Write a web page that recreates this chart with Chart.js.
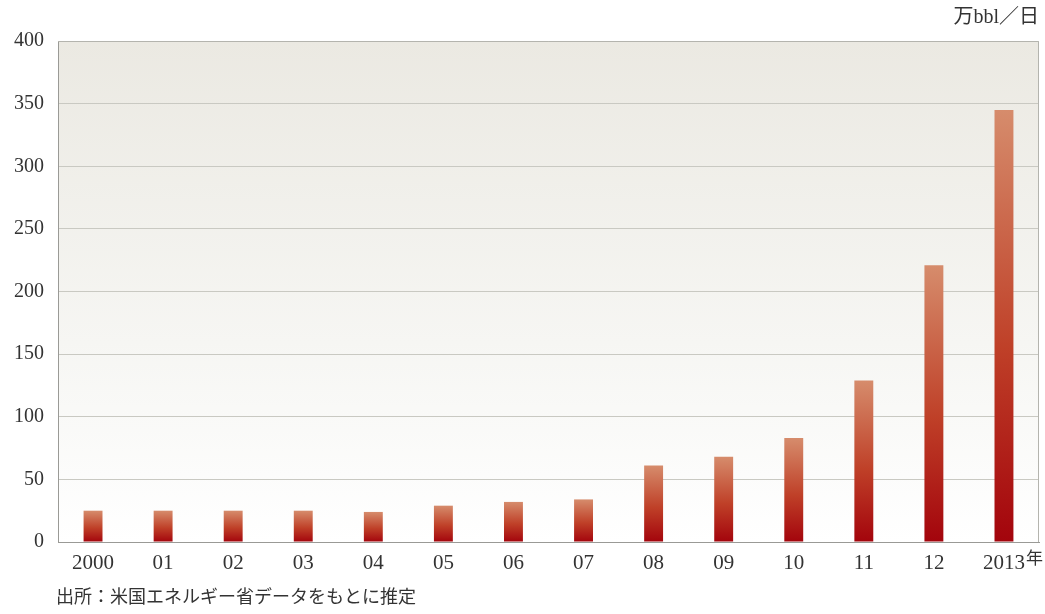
<!DOCTYPE html>
<html lang="ja">
<head>
<meta charset="utf-8">
<script src="https://cdn.jsdelivr.net/npm/chart.js@4/dist/chart.umd.min.js"></script>
<style>
  html, body {margin: 0; padding: 0; background: #fff;}
  #wrap {width: 1045px; height: 614px; position: relative;}
</style>
</head>
<body>
<div id="wrap"><canvas id="c"></canvas></div>
<script>
// Production, 万bbl/日, 2000-2013.
const years = ['2000', '01', '02', '03', '04', '05', '06', '07', '08', '09',
               '10', '11', '12', '2013'];
const output = [25, 25, 25, 25, 24, 29, 32, 34, 61, 68, 83, 129, 221, 345];
const yTicks = [0, 50, 100, 150, 200, 250, 300, 350, 400];
const unitLabel = '万bbl／日';
const yearSuffix = '年';
const sourceNote = '出所：米国エネルギー省データをもとに推定';

const serif = '"Liberation Serif", "DejaVu Serif", "Noto Sans CJK JP", serif';
const ink = '#333';

// Panel background, frame, and the extra texts around the plot.
const decor = {
    id: 'decor',
    beforeDraw(chart) {
        const {ctx, chartArea: a} = chart;
        const g = ctx.createLinearGradient(0, a.top, 0, a.bottom);
        g.addColorStop(0, '#ebe9e2');
        g.addColorStop(0.6, '#f6f6f3');
        g.addColorStop(1, '#ffffff');
        ctx.save();
        ctx.fillStyle = g;
        ctx.fillRect(a.left, a.top, a.right - a.left, a.bottom - a.top);
        ctx.restore();
    },
    afterDraw(chart) {
        const {ctx, chartArea: a} = chart;
        ctx.save();
        ctx.strokeStyle = '#b4b4ae';
        ctx.lineWidth = 1;
        ctx.beginPath();
        ctx.moveTo(a.left, a.top + 0.5);
        ctx.lineTo(a.right - 0.5, a.top + 0.5);
        ctx.lineTo(a.right - 0.5, a.bottom);
        ctx.stroke();

        ctx.fillStyle = ink;
        ctx.font = `20px ${serif}`;
        ctx.textBaseline = 'middle';
        ctx.textAlign = 'right';
        ctx.fillText(unitLabel, 1039, 18);

        // Year suffix after the last tick label.
        const x = chart.scales.x;
        const last = x.getPixelForTick(years.length - 1);
        ctx.font = `21px ${serif}`;
        const w = ctx.measureText(years[years.length - 1]).width;
        ctx.font = `17px ${serif}`;
        ctx.textAlign = 'left';
        ctx.fillText(yearSuffix, last + w / 2 + 1, 560);

        ctx.font = `18px ${serif}`;
        ctx.fillText(sourceNote, 56, 598);
        ctx.restore();
    },
};

// Each bar shades from light at its top to dark red at its base.
function barFill(c) {
    const chart = c.chart;
    if (!chart.chartArea || !c.parsed) return '#b52a1c';
    const y = chart.scales.y;
    const top = y.getPixelForValue(c.parsed.y), base = y.getPixelForValue(0);
    const g = chart.ctx.createLinearGradient(0, top, 0, base);
    g.addColorStop(0, '#d68c6c');
    g.addColorStop(0.55, '#bf4028');
    g.addColorStop(1, '#a3040c');
    return g;
}

new Chart(document.getElementById('c'), {
    type: 'bar',
    data: {
        labels: years,
        datasets: [{
            data: output,
            backgroundColor: barFill,
            borderWidth: 0,
            categoryPercentage: 1,
            barPercentage: 0.27,
        }],
    },
    plugins: [decor],
    options: {
        responsive: true,
        maintainAspectRatio: false,
        animation: false,
        layout: {padding: {left: 0, top: 41, right: 6, bottom: 40}},
        plugins: {legend: {display: false}, tooltip: {enabled: false}},
        scales: {
            x: {
                grid: {display: false},
                border: {display: true, color: '#9a9a96', width: 1},
                ticks: {
                    color: ink, font: {family: serif, size: 21},
                    padding: 1, maxRotation: 0, autoSkip: false,
                },
                afterFit: s => { s.height = 32; },
            },
            y: {
                min: 0, max: 400,
                afterBuildTicks: s => { s.ticks = yTicks.map(v => ({value: v})); },
                grid: {color: '#c9c9c2', lineWidth: 1, drawTicks: false},
                border: {display: true, color: '#9a9a96', width: 1},
                ticks: {
                    color: ink, font: {family: serif, size: 20}, padding: 14,
                },
                afterFit: s => { s.width = 58; },
            },
        },
    },
});
</script>
</body>
</html>
